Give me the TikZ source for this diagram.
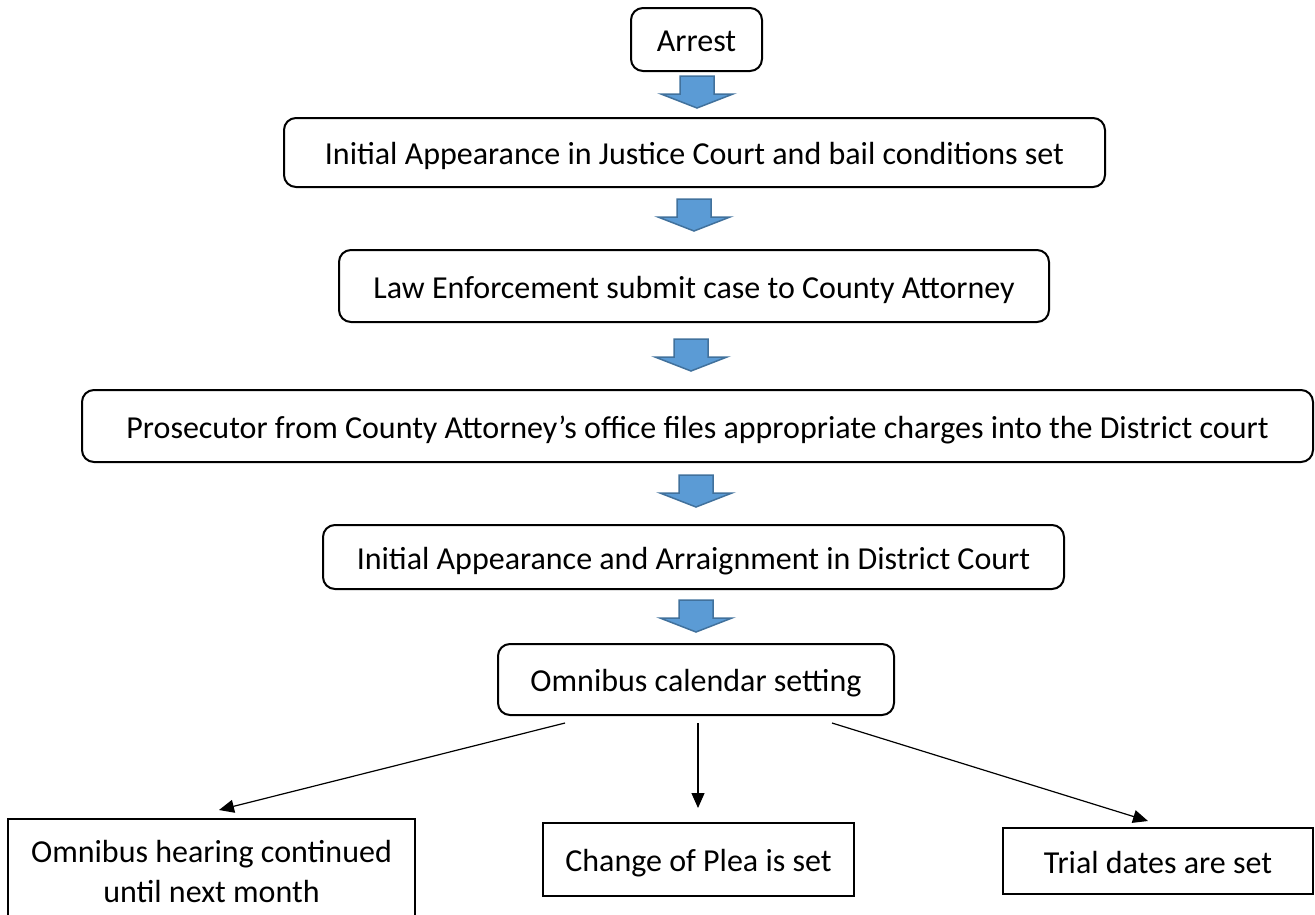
\documentclass[tikz,border=0pt]{standalone}
\usepackage{fontspec}
\setmainfont{Carlito}
\usetikzlibrary{arrows.meta}
\definecolor{arrfill}{HTML}{5B9BD5}
\definecolor{arrline}{HTML}{41719C}
\begin{document}
\begin{tikzpicture}[x=1pt,y=-1pt,
 every node/.style={font=\fontsize{32}{39}\selectfont, inner sep=0pt},
 rbox/.style={draw, line width=2pt, rounded corners=12pt, text height=24pt, text depth=0pt},
 sbox/.style={draw, line width=2pt, text height=24pt, text depth=0pt},
 conn/.style={line width=1.2pt, -{Triangle[length=15pt,width=13pt]}},
 barrow/.pic={\draw[line width=1.5pt, draw=arrline, fill=arrfill, line join=miter]
   (-17,0) -- (17,0) -- (17,18) -- (36,18) -- (0,32) -- (-36,18) -- (-17,18) -- cycle;}
]
\useasboundingbox (0,0) rectangle (1315,914);

\node[rbox, minimum width=131pt, minimum height=63pt] (arrest) at (696.5,39.5) {Arrest};
\node[rbox, minimum width=821pt, minimum height=69pt] (ija) at (694.5,152.5) {Initial Appearance in Justice Court and bail conditions set};
\node[rbox, minimum width=710pt, minimum height=72pt] (law) at (694,286) {Law Enforcement submit case to County Attorney};
\node[rbox, minimum width=1231pt, minimum height=72pt] (pros) at (697.5,426) {Prosecutor from County Attorney’s office files appropriate charges into the District court};
\node[rbox, minimum width=741pt, minimum height=64pt] (arr) at (693.5,557) {Initial Appearance and Arraignment in District Court};
\node[rbox, minimum width=396pt, minimum height=71pt] (omni) at (696,679.5) {Omnibus calendar setting};

\pic at (697,76) {barrow};
\pic at (694,199) {barrow};
\pic at (691,339) {barrow};
\pic at (696,475) {barrow};
\pic at (696,600) {barrow};

\node[sbox, minimum width=407pt, minimum height=130pt, anchor=north] (cont) at (211.5,818) {};
\node[anchor=base] (contA) at (211.5,862) {Omnibus hearing continued};
\node[anchor=base] (contB) at (211.5,902) {until next month};
\node[sbox, minimum width=311pt, minimum height=73pt] (plea) at (698.5,859.5) {Change of Plea is set};
\node[sbox, minimum width=310pt, minimum height=66pt] (trial) at (1158,861) {Trial dates are set};

\coordinate (sL) at (565,723);
\coordinate (sM) at (698,723);
\coordinate (sR) at (832,723);
\coordinate (eL) at (219,810);
\coordinate (eM) at (698,808);
\coordinate (eR) at (1148,821);
\draw[conn] (sL) -- (eL);
\draw[conn] (sM) -- (eM);
\draw[conn] (sR) -- (eR);
\end{tikzpicture}
\end{document}
